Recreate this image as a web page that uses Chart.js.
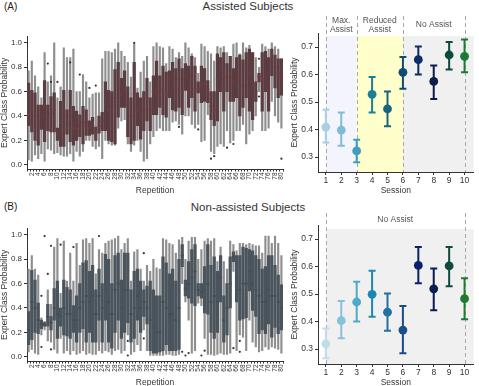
<!DOCTYPE html>
<html>
<head>
<meta charset="utf-8">
<script src="https://cdn.jsdelivr.net/npm/chart.js@4.4.1/dist/chart.umd.min.js"></script>
<style>
  body { margin: 0; width: 479px; height: 386px; overflow: hidden; background: #fff; position: relative; font-family: "Liberation Sans", Arial, sans-serif; color: #333; }
  canvas { position: absolute; }
  .tag { position: absolute; left: 4px; font-size: 10px; color: #222; }
  .title { position: absolute; width: 200px; left: 148px; text-align: center; font-size: 11.5px; color: #333; }
</style>
</head>
<body>
<div class="tag" style="top:1px">(A)</div>
<div class="title" style="top:0px">Assisted Subjects</div>
<div class="tag" style="top:201px">(B)</div>
<div class="title" style="top:201px">Non-assisted Subjects</div>

<canvas id="boxA" width="292" height="166" style="left:0;top:30px"></canvas>
<canvas id="sessA" width="189" height="196" style="left:290px;top:0"></canvas>
<canvas id="boxB" width="292" height="166" style="left:0;top:222px"></canvas>
<canvas id="sessB" width="189" height="196" style="left:290px;top:192px"></canvas>

<script>
// ---- repetition box plots ----
const repetitions = Array.from({ length: 80 }, (_, i) => i + 1);
const boxTicks = [0, 0.2, 0.4, 0.6, 0.8, 1.0];

// Assisted subjects, per repetition
const assistedWhiskerHigh = [0.77,0.85,0.73,0.64,0.55,0.92,0.68,0.73,1.00,0.55,0.64,0.96,0.88,0.88,0.95,0.60,0.60,0.74,0.68,0.55,
  0.58,0.59,0.59,0.87,0.93,0.93,0.92,0.95,1.00,0.93,0.89,0.84,0.72,0.99,0.63,0.76,0.85,0.89,0.68,0.97,
  1.00,0.97,0.96,0.83,0.97,0.95,0.88,0.92,0.89,1.00,0.96,0.91,0.88,0.75,0.99,0.97,0.93,0.91,0.85,0.97,
  0.96,0.97,0.92,0.89,0.99,1.00,0.91,1.00,0.96,0.98,0.92,0.88,0.80,0.99,0.97,0.95,1.00,0.97,0.95,0.87];
const assistedQ3 = [0.67,0.61,0.59,0.49,0.49,0.69,0.49,0.56,0.59,0.30,0.52,0.61,0.45,0.61,0.48,0.44,0.41,0.48,0.45,0.36,
  0.39,0.31,0.40,0.43,0.68,0.61,0.60,0.78,0.84,0.71,0.77,0.64,0.55,0.84,0.59,0.55,0.60,0.71,0.55,0.73,
  0.85,0.73,0.81,0.76,0.77,0.84,0.79,0.87,0.79,0.83,0.81,0.89,0.81,0.68,0.81,0.79,0.69,0.60,0.60,0.91,
  0.88,0.92,0.83,0.89,0.79,0.88,0.90,0.86,0.92,0.95,0.92,0.68,0.75,0.92,0.93,0.88,0.95,0.90,0.87,0.87];
const assistedMedian = [0.42,0.45,0.40,0.32,0.40,0.48,0.38,0.42,0.45,0.25,0.35,0.40,0.33,0.40,0.30,0.30,0.32,0.35,0.34,0.30,
  0.32,0.26,0.32,0.36,0.50,0.45,0.48,0.55,0.65,0.58,0.62,0.50,0.40,0.58,0.45,0.42,0.45,0.55,0.45,0.60,
  0.62,0.60,0.62,0.58,0.70,0.65,0.62,0.70,0.60,0.72,0.60,0.72,0.62,0.62,0.65,0.66,0.62,0.48,0.45,0.70,
  0.78,0.70,0.72,0.72,0.68,0.72,0.70,0.65,0.80,0.75,0.65,0.60,0.72,0.70,0.70,0.62,0.85,0.80,0.75,0.72];
const assistedQ1 = [0.32,0.27,0.20,0.16,0.29,0.19,0.28,0.27,0.27,0.20,0.15,0.15,0.25,0.19,0.16,0.20,0.23,0.17,0.24,0.24,
  0.25,0.20,0.26,0.28,0.28,0.20,0.19,0.17,0.39,0.47,0.47,0.23,0.17,0.20,0.32,0.21,0.28,0.36,0.28,0.41,
  0.41,0.47,0.41,0.39,0.55,0.45,0.44,0.47,0.41,0.61,0.47,0.55,0.44,0.59,0.51,0.52,0.51,0.37,0.32,0.36,
  0.60,0.44,0.60,0.52,0.52,0.55,0.40,0.47,0.55,0.44,0.37,0.52,0.68,0.44,0.60,0.44,0.73,0.63,0.55,0.57];
const assistedWhiskerLow = [0.04,0.03,0.08,0.05,0.09,0.03,0.13,0.12,0.09,0.10,0.08,0.07,0.07,0.09,0.03,0.11,0.07,0.11,0.20,0.20,
  0.15,0.13,0.15,0.05,0.20,0.17,0.16,0.16,0.30,0.36,0.37,0.17,0.11,0.16,0.20,0.11,0.03,0.05,0.17,0.23,
  0.28,0.30,0.28,0.28,0.28,0.35,0.36,0.33,0.25,0.40,0.40,0.33,0.30,0.33,0.19,0.20,0.41,0.11,0.09,0.15,
  0.17,0.15,0.28,0.18,0.20,0.28,0.28,0.33,0.17,0.25,0.28,0.40,0.60,0.28,0.28,0.30,0.52,0.40,0.35,0.30];
const assistedOutliers = [[7,0.83],[8,0.68],[10,0.68],[14,0.84],[17,0.74],[20,0.63],[22,0.65],[34,1.00],[48,0.31],
  [54,0.29],[58,0.05],[59,0.07],[63,0.14],[65,0.17],[73,0.87],[73,0.56],[80,0.05]];

// Non-assisted subjects, per repetition
const nonAssistedWhiskerHigh = [0.72,0.83,0.72,0.67,0.32,0.29,0.55,0.43,0.90,0.97,0.52,0.95,0.62,0.85,0.62,0.93,0.75,0.96,0.97,0.93,
  0.97,0.68,0.88,0.85,0.93,0.95,0.96,0.97,0.99,0.88,0.93,0.97,0.62,0.86,0.88,0.72,0.62,0.75,0.70,0.80,
  0.73,0.72,0.97,0.96,0.93,0.92,0.85,0.96,0.98,0.80,0.95,0.98,0.98,0.80,0.88,0.95,0.97,0.95,0.97,0.78,
  0.90,0.78,0.72,0.95,0.92,0.87,0.93,0.93,0.92,0.93,0.92,0.91,0.91,0.85,0.99,0.99,0.93,0.99,0.93,0.83];
const nonAssistedQ3 = [0.37,0.71,0.63,0.44,0.30,0.28,0.43,0.33,0.56,0.62,0.40,0.63,0.57,0.55,0.42,0.50,0.60,0.77,0.79,0.70,
  0.75,0.55,0.72,0.60,0.84,0.80,0.60,0.83,0.85,0.63,0.85,0.85,0.55,0.70,0.72,0.62,0.55,0.58,0.62,0.55,
  0.50,0.50,0.82,0.77,0.68,0.72,0.62,0.80,0.92,0.63,0.78,0.88,0.92,0.60,0.60,0.74,0.92,0.75,0.82,0.70,
  0.83,0.50,0.60,0.82,0.86,0.83,0.83,0.90,0.89,0.88,0.87,0.83,0.80,0.72,0.74,0.83,0.83,0.75,0.67,0.59];
const nonAssistedMedian = [0.22,0.45,0.40,0.30,0.27,0.26,0.33,0.28,0.40,0.35,0.33,0.40,0.35,0.35,0.30,0.30,0.40,0.45,0.50,0.45,
  0.50,0.35,0.50,0.40,0.55,0.45,0.35,0.55,0.60,0.40,0.55,0.55,0.35,0.40,0.50,0.40,0.45,0.40,0.30,0.25,
  0.20,0.20,0.45,0.40,0.35,0.35,0.30,0.40,0.83,0.56,0.60,0.65,0.70,0.55,0.53,0.55,0.60,0.45,0.50,0.45,
  0.65,0.30,0.40,0.60,0.82,0.65,0.55,0.60,0.60,0.70,0.60,0.55,0.50,0.45,0.45,0.55,0.50,0.50,0.45,0.40];
const nonAssistedQ1 = [0.10,0.14,0.20,0.19,0.23,0.25,0.25,0.22,0.30,0.15,0.25,0.18,0.17,0.15,0.20,0.12,0.20,0.23,0.12,0.20,
  0.12,0.12,0.30,0.12,0.30,0.12,0.07,0.20,0.30,0.15,0.20,0.28,0.12,0.15,0.30,0.20,0.33,0.27,0.05,0.03,
  0.03,0.04,0.05,0.10,0.05,0.05,0.05,0.06,0.74,0.50,0.48,0.44,0.42,0.50,0.48,0.36,0.35,0.20,0.15,0.20,
  0.45,0.12,0.18,0.40,0.78,0.45,0.30,0.31,0.32,0.54,0.38,0.33,0.19,0.22,0.19,0.27,0.16,0.24,0.19,0.22];
const nonAssistedWhiskerLow = [0.04,0.06,0.03,0.02,0.18,0.22,0.13,0.12,0.06,0.03,0.15,0.03,0.05,0.02,0.05,0.02,0.03,0.05,0.02,0.03,
  0.02,0.02,0.05,0.03,0.05,0.04,0.02,0.05,0.06,0.03,0.05,0.18,0.02,0.04,0.10,0.05,0.22,0.05,0.01,0.01,
  0.01,0.01,0.01,0.02,0.02,0.01,0.01,0.02,0.60,0.45,0.30,0.03,0.05,0.44,0.42,0.15,0.02,0.02,0.01,0.02,
  0.03,0.02,0.02,0.03,0.70,0.05,0.18,0.16,0.05,0.30,0.12,0.08,0.04,0.05,0.08,0.06,0.08,0.07,0.06,0.03];
const nonAssistedOutliers = [[5,0.50],[5,0.08],[6,0.99],[7,0.68],[8,0.91],[8,0.06],[11,0.92],[15,0.90],[23,0.99],
  [32,0.13],[32,0.01],[37,0.85],[37,0.15],[49,0.04],[50,0.01],[51,0.03],[55,0.01],[56,0.05],[65,0.07],[67,0.13],[67,0.04]];

// ---- session means with error bars ----
const sessions = [1, 2, 3, 4, 5, 6, 7, 8, 9, 10];
const sessionTicks = [0.3, 0.4, 0.5, 0.6, 0.7];

const assistedMean = [0.409, 0.398, 0.322, 0.528, 0.475, 0.608, 0.654, 0.575, 0.671, 0.666];
const assistedLow  = [0.353, 0.341, 0.281, 0.462, 0.412, 0.548, 0.600, 0.511, 0.618, 0.608];
const assistedHigh = [0.472, 0.462, 0.363, 0.591, 0.538, 0.664, 0.702, 0.633, 0.718, 0.727];
const assistedColors = ['#a8d0e2', '#7fbcd6', '#3f9ec0', '#1a8095', '#17657e', '#0f4d70', '#0b2c66', '#0c1d4b', '#0d4a3c', '#1c7a35'];

const nonAssistedMean = [0.319, 0.403, 0.471, 0.499, 0.434, 0.369, 0.604, 0.519, 0.602, 0.483];
const nonAssistedLow  = [0.266, 0.339, 0.400, 0.417, 0.366, 0.285, 0.539, 0.441, 0.528, 0.408];
const nonAssistedHigh = [0.375, 0.475, 0.545, 0.585, 0.502, 0.456, 0.671, 0.593, 0.671, 0.557];
const nonAssistedColors = ['#c2dde9', '#86c2d9', '#4ea9ca', '#1d87b3', '#2271a3', '#1b4d8b', '#0b206c', '#0d1c52', '#0e4a3e', '#1f7a30'];

const axisFont = { family: 'Liberation Sans', size: 8.5 };
const tickColor = '#333';

function makeBoxChart(id, whi, q3, med, q1, wlo, outliers, boxColor, medColor) {
  const idx = repetitions.map((_, i) => i);
  new Chart(document.getElementById(id), {
    type: 'bar',
    data: {
      labels: repetitions,
      datasets: [
        { type: 'scatter', data: outliers.map(o => ({ x: o[0], y: o[1] })), pointRadius: 1.1,
          pointBackgroundColor: '#333', pointBorderWidth: 0, order: 0 },
        { data: idx.map(i => [med[i] - 0.004, med[i] + 0.004]), backgroundColor: medColor, barThickness: 2.4, grouped: false, order: 1 },
        { data: idx.map(i => [q1[i], q3[i]]), backgroundColor: boxColor, barThickness: 2.6, grouped: false, order: 2 },
        { data: idx.map(i => [wlo[i], whi[i]]), backgroundColor: '#8e8e8e', barThickness: 1.5, grouped: false, order: 3 }
      ]
    },
    options: {
      responsive: false,
      animation: false,
      devicePixelRatio: 1,
      layout: { padding: { top: 4, right: 9, left: 0, bottom: 0 } },
      plugins: { legend: { display: false }, tooltip: { enabled: false } },
      scales: {
        x: {
          type: 'category',
          afterFit: s => { s.height = 27; },
          grid: { drawOnChartArea: false, tickLength: 2.5, color: tickColor },
          border: { color: tickColor, width: 1 },
          ticks: {
            autoSkip: false, minRotation: 90, maxRotation: 90, padding: 1,
            color: tickColor, font: { family: 'Liberation Sans', size: 6.5 },
            callback: (v, i) => (i % 2 === 1 ? String(repetitions[i]) : '')
          },
          title: { display: true, text: 'Repetition', color: tickColor, font: axisFont, padding: 0 }
        },
        y: {
          min: -0.035, max: 1.05,
          afterFit: s => { s.width = 27; },
          afterBuildTicks: s => { s.ticks = boxTicks.map(v => ({ value: v })); },
          grid: { drawOnChartArea: false, tickLength: 3, color: tickColor },
          border: { color: tickColor, width: 1 },
          ticks: { color: tickColor, padding: 2, font: { family: 'Liberation Sans', size: 8 }, callback: v => v.toFixed(1) },
          title: { display: true, text: 'Expert Class Probability', color: tickColor, font: axisFont, padding: 0 }
        }
      }
    }
  });
}

const phasePlugin = {
  id: 'phases',
  beforeDraw(chart, args, opts) {
    const { ctx, chartArea, scales: { x, y } } = chart;
    ctx.save();
    const top = y.getPixelForValue(opts.shadeTop);
    opts.regions.forEach(r => {
      const x0 = x.getPixelForValue(r.from);
      const x1 = r.to == null ? chartArea.right : x.getPixelForValue(r.to);
      ctx.fillStyle = r.color;
      ctx.fillRect(x0, top, x1 - x0, chartArea.bottom - top);
    });
    ctx.strokeStyle = '#a8a8a8';
    ctx.lineWidth = 1;
    ctx.setLineDash([4, 3]);
    opts.dividers.forEach(v => {
      const px = Math.round(x.getPixelForValue(v)) + 0.5;
      ctx.beginPath();
      ctx.moveTo(px, opts.lineTop);
      ctx.lineTo(px, chartArea.bottom);
      ctx.stroke();
    });
    ctx.setLineDash([]);
    ctx.fillStyle = '#555';
    ctx.font = '8.5px "Liberation Sans"';
    ctx.textAlign = 'center';
    ctx.textBaseline = 'middle';
    opts.labels.forEach(l => l.lines.forEach((t, k) => {
      ctx.fillText(t, x.getPixelForValue(l.x), l.y + k * 9);
    }));
    ctx.restore();
  }
};

function makeSessionChart(id, mean, low, high, colors, phases) {
  const bars = sessions.map((s, i) => ({
    data: [{ x: s, y: low[i] }, { x: s, y: high[i] }],
    showLine: true, borderColor: colors[i], borderWidth: 2,
    pointStyle: 'line', pointRadius: 3.5, pointBorderColor: colors[i], pointBorderWidth: 2, pointHoverRadius: 3.5
  }));
  new Chart(document.getElementById(id), {
    type: 'scatter',
    data: {
      datasets: [
        { data: sessions.map((s, i) => ({ x: s, y: mean[i] })), pointRadius: 4.4, pointBackgroundColor: colors,
          pointBorderWidth: 0, showLine: false }
      ].concat(bars)
    },
    options: {
      responsive: false,
      animation: false,
      devicePixelRatio: 1,
      layout: { padding: { top: 33, right: 4, left: 0, bottom: 0 } },
      plugins: { legend: { display: false }, tooltip: { enabled: false }, phases },
      scales: {
        x: {
          type: 'linear', min: 0.49, max: 10.58,
          afterFit: s => { s.height = 24; },
          afterBuildTicks: s => { s.ticks = sessions.map(v => ({ value: v })); },
          grid: { drawOnChartArea: false, tickLength: 3, color: tickColor },
          border: { color: tickColor, width: 1 },
          ticks: { color: tickColor, padding: 1, font: { family: 'Liberation Sans', size: 8.5 } },
          title: { display: true, text: 'Session', color: tickColor, font: axisFont, padding: 0 }
        },
        y: {
          min: 0.2455, max: 0.751,
          afterFit: s => { s.width = 28; },
          afterBuildTicks: s => { s.ticks = sessionTicks.map(v => ({ value: v })); },
          grid: { drawOnChartArea: false, tickLength: 3, color: tickColor },
          border: { color: tickColor, width: 1 },
          ticks: { color: tickColor, padding: 2, font: { family: 'Liberation Sans', size: 8.5 }, callback: v => v.toFixed(1) },
          title: { display: true, text: 'Expert Class Probability', color: tickColor, font: axisFont, padding: 0 }
        }
      }
    },
    plugins: [phasePlugin]
  });
}

makeBoxChart('boxA', assistedWhiskerHigh, assistedQ3, assistedMedian, assistedQ1, assistedWhiskerLow,
  assistedOutliers, '#5b3c41', '#74393e');
makeBoxChart('boxB', nonAssistedWhiskerHigh, nonAssistedQ3, nonAssistedMedian, nonAssistedQ1, nonAssistedWhiskerLow,
  nonAssistedOutliers, '#4a545d', '#444c54');

makeSessionChart('sessA', assistedMean, assistedLow, assistedHigh, assistedColors, {
  shadeTop: 0.74, lineTop: 16, dividers: [1, 3, 6, 10],
  regions: [
    { from: 1, to: 3, color: '#f4f4fd' },
    { from: 3, to: 6, color: '#ffffcc' },
    { from: 6, to: null, color: '#f0f0f0' }
  ],
  labels: [
    { x: 2, y: 21, lines: ['Max.', 'Assist'] },
    { x: 4.5, y: 21, lines: ['Reduced', 'Assist'] },
    { x: 8, y: 25, lines: ['No Assist'] }
  ]
});
makeSessionChart('sessB', nonAssistedMean, nonAssistedLow, nonAssistedHigh, nonAssistedColors, {
  shadeTop: 0.736, lineTop: 21, dividers: [1, 10],
  regions: [{ from: 1, to: null, color: '#f0f0f0' }],
  labels: [{ x: 5.5, y: 28, lines: ['No Assist'] }]
});
</script>
</body>
</html>
